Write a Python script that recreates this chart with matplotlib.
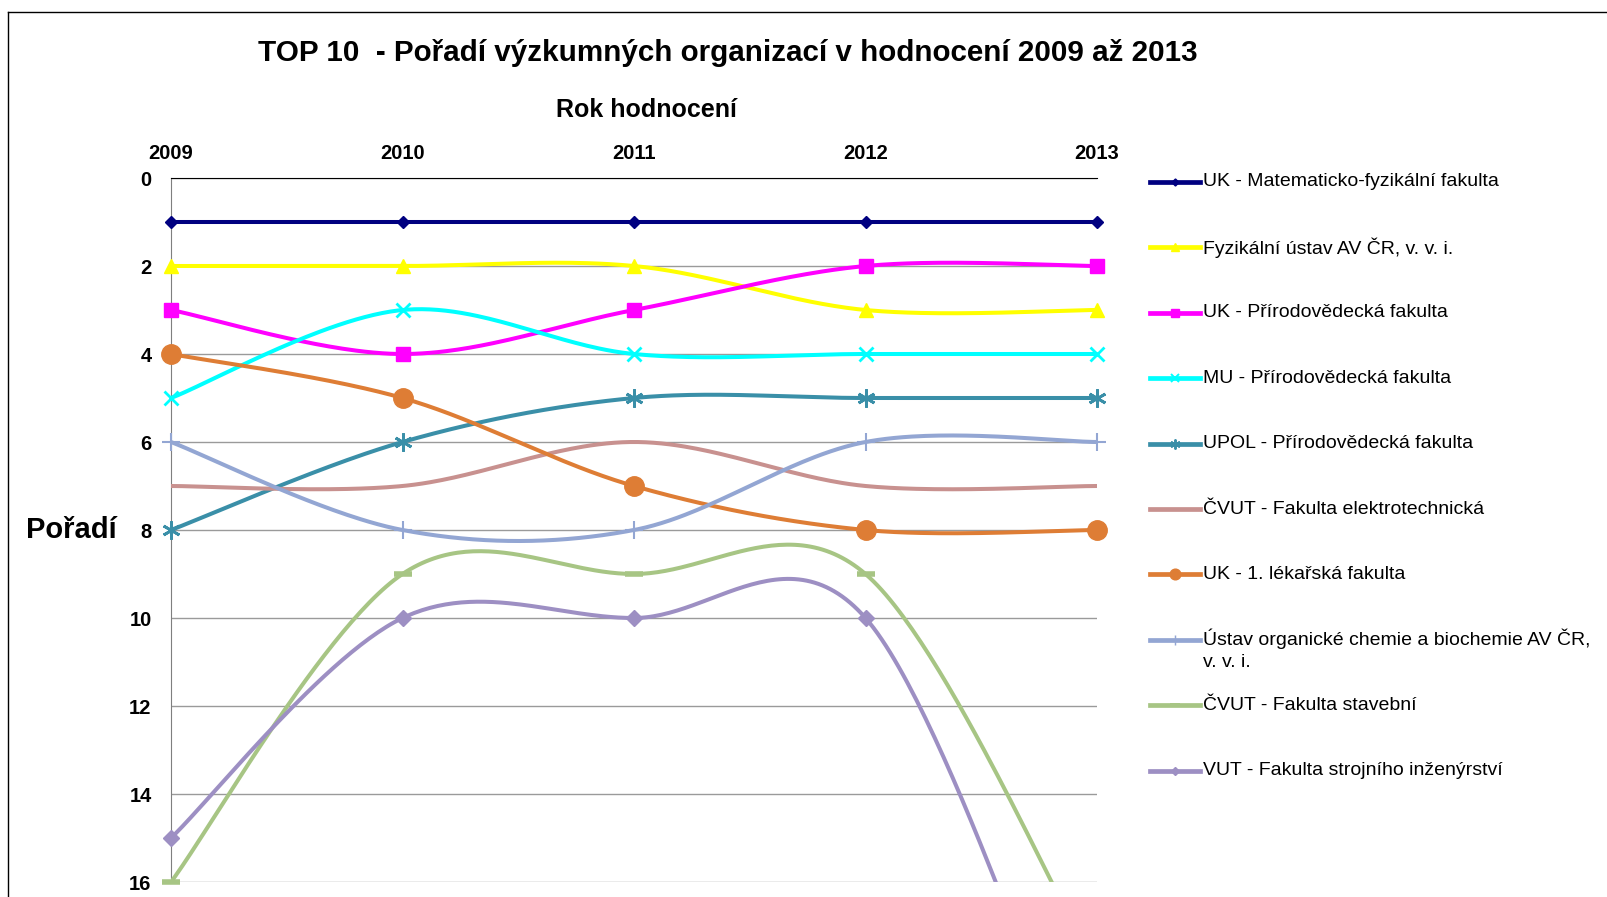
import numpy as np
import matplotlib.pyplot as plt
from matplotlib.lines import Line2D

plt.rcParams['font.family'] = ['Liberation Sans', 'DejaVu Sans']

# Data (rank per evaluation year)
years = [2009, 2010, 2011, 2012, 2013]

names = [
    "UK - Matematicko-fyzikální fakulta",
    "Fyzikální ústav AV ČR, v. v. i.",
    "UK - Přírodovědecká fakulta",
    "MU - Přírodovědecká fakulta",
    "UPOL - Přírodovědecká fakulta",
    "ČVUT - Fakulta elektrotechnická",
    "UK - 1. lékařská fakulta",
    "Ústav organické chemie a biochemie AV ČR,\nv. v. i.",
    "ČVUT - Fakulta stavební",
    "VUT - Fakulta strojního inženýrství",
]

uk_mff = [1, 1, 1, 1, 1]
fzu = [2, 2, 2, 3, 3]
uk_prf = [3, 4, 3, 2, 2]
mu_prf = [5, 3, 4, 4, 4]
upol_prf = [8, 6, 5, 5, 5]
cvut_fel = [7, 7, 6, 7, 7]
uk_1lf = [4, 5, 7, 8, 8]
uochb = [6, 8, 8, 6, 6]
cvut_fsv = [16, 9, 9, 9, 18]
vut_fsi = [15, 10, 10, 10, 22]

series = [uk_mff, fzu, uk_prf, mu_prf, upol_prf, cvut_fel, uk_1lf, uochb, cvut_fsv, vut_fsi]

# style per series: color, marker, markersize, marker edge width
styles = [
    ("#000080", "D", 6.5, 1.0),
    ("#FFFF00", "^", 10, 1.0),
    ("#FF00FF", "s", 10, 1.0),
    ("#00FFFF", "x", 10, 2.0),
    ("#3A8FA8", (6, 2, 0), 13, 2.0),
    ("#C8918F", None, 0, 0),
    ("#DE7D35", "o", 14, 1.0),
    ("#93A6D3", "+", 13, 1.5),
    ("#A7C584", "_", 13, 4.0),
    ("#9D8FC3", "D", 8, 1.0),
]


def smooth(x, y, n=60):
    # Excel-like smoothed line (Catmull-Rom through the points)
    x = np.asarray(x, float)
    y = np.asarray(y, float)
    xp = np.concatenate([[x[0]], x, [x[-1]]])
    yp = np.concatenate([[y[0]], y, [y[-1]]])
    mx = (xp[2:] - xp[:-2]) / 2
    my = (yp[2:] - yp[:-2]) / 2
    t = np.linspace(0, 1, n)
    h00 = 2 * t**3 - 3 * t**2 + 1
    h10 = t**3 - 2 * t**2 + t
    h01 = -2 * t**3 + 3 * t**2
    h11 = t**3 - t**2
    xs, ys = [], []
    for i in range(len(x) - 1):
        xs.append(h00 * x[i] + h10 * mx[i] + h01 * x[i + 1] + h11 * mx[i + 1])
        ys.append(h00 * y[i] + h10 * my[i] + h01 * y[i + 1] + h11 * my[i + 1])
    return np.concatenate(xs), np.concatenate(ys)


W, H = 1608, 897
fig = plt.figure(figsize=(W / 100, H / 100), dpi=100)
ax = fig.add_axes([171 / W, 1 - 882 / H, (1097 - 171) / W, (882 - 178) / H])

for vals, (col, mk, ms, mew) in zip(series, styles):
    sx, sy = smooth(years, vals)
    ax.plot(sx, sy, color=col, lw=2.9, solid_capstyle='round', zorder=3)
    if mk is not None:
        v = np.ma.masked_greater(np.array(vals, float), 16)
        ax.plot(years, v, ls='none', marker=mk, ms=ms, mew=mew,
                color=col, mec=col, mfc=col, clip_on=False, zorder=4)

ax.set_xlim(2009, 2013)
ax.set_ylim(16, 0)
ax.set_yticks(range(0, 17, 2))
ax.set_xticks(years)
ax.xaxis.tick_top()
ax.tick_params(length=0, labelsize=14.5, pad=11)
ax.tick_params(axis='y', pad=14)
for lab in ax.get_xticklabels() + ax.get_yticklabels():
    lab.set_fontweight('bold')
ax.grid(axis='y', color='#9a9a9a', lw=1)
ax.set_axisbelow(True)
ax.spines['right'].set_visible(False)
ax.spines['bottom'].set_visible(False)
ax.spines['left'].set_color('#7f7f7f')
ax.spines['top'].set_color('black')

fig.text(728 / W, 1 - 53 / H, "TOP 10  - Pořadí výzkumných organizací v hodnocení 2009 až 2013",
         ha='center', va='center', fontsize=21.3, fontweight='bold')
fig.text(647 / W, 1 - 110 / H, "Rok hodnocení", ha='center', va='center',
         fontsize=18, fontweight='bold')
fig.text(26 / W, 1 - 530 / H, "Pořadí", ha='left', va='center',
         fontsize=21, fontweight='bold')

# legend drawn by hand, one row every ~65 px
for i, (name, (col, mk, ms, mew)) in enumerate(zip(names, styles)):
    yy = 1 - (182 + i * 65.4) / H
    fig.add_artist(Line2D([1150 / W, 1200 / W], [yy, yy], color=col, lw=3.4))
    if mk is not None:
        fig.add_artist(Line2D([1175 / W], [yy], ls='none', marker=mk, ms=ms * 0.55,
                              mew=max(mew * 0.7, 1), color=col))
    if "\n" in name:
        fig.text(1203 / W, yy + 11 / H, name, ha='left', va='top', fontsize=14,
                 linespacing=1.35)
    else:
        fig.text(1203 / W, yy, name, ha='left', va='center', fontsize=14)

# outer chart frame (only left and top edges are inside the picture)
fig.add_artist(Line2D([8 / W, 8 / W], [0, 1 - 12 / H], color='black', lw=1))
fig.add_artist(Line2D([8 / W, 1], [1 - 12 / H, 1 - 12 / H], color='black', lw=1))

fig.savefig("out.png", dpi=100)
